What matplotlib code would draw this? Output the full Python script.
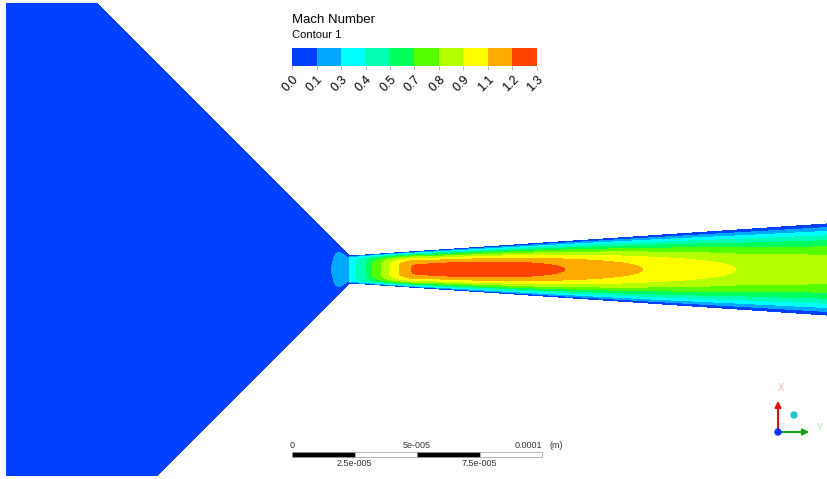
import numpy as np
import matplotlib
matplotlib.use('Agg')
import matplotlib.pyplot as plt
from matplotlib.colors import ListedColormap
from matplotlib.patches import Rectangle, FancyArrowPatch, Ellipse

plt.rcParams['font.family'] = ['Liberation Sans', 'DejaVu Sans']

W, H = 827, 479

# contour levels (Mach) and legend labels
levels = [0.0, 0.132, 0.264, 0.396, 0.528, 0.66, 0.792, 0.924, 1.056, 1.188, 1.32]
level_labels = ['0.0', '0.1', '0.3', '0.4', '0.5', '0.7', '0.8', '0.9', '1.1', '1.2', '1.3']
band_colors = ['#0040ff', '#00a8ff', '#00ffff', '#00ffb4', '#00ff5a',
               '#55ff00', '#b4ff00', '#ffff00', '#ffaa00', '#ff4400']

# nozzle half-height (um) along the axis, throat at x = 0
wall_x = [-140.0, 0.0, 192.0]
wall_h = [145.4, 5.4, 18.3]

# centreline Mach number read along the nozzle axis (um)
axis_x = [-140, -60, -20, -6.8, -3.5, -0.01, 0, 3.2, 6.8, 9.2, 12.8, 16, 20, 25.2,
          40, 55, 70, 84, 116, 156.8, 192]
axis_m = [0.01, 0.03, 0.07, 0.135, 0.245, 0.26, 0.34, 0.41, 0.54, 0.67, 0.80, 0.93,
          1.07, 1.20, 1.265, 1.28, 1.255, 1.195, 1.06, 0.915, 0.875]

# flatness of the cross-stream profile M = Mc * (1 - |eta|^n)
prof_x = [-140, -0.01, 0, 4, 10, 20, 35, 60, 192]
prof_n = [2.5, 2.5, 12, 8, 5, 3.5, 2.6, 2.3, 2.0]

# scale bar (m) and its labels
scale_m = [0, 2.5e-5, 5e-5, 7.5e-5, 1e-4]
scale_top = ['0', '5e-005', '0.0001']
scale_bot = ['2.5e-005', '7.5e-005']

# structured grid following the walls
xs = np.unique(np.concatenate([np.linspace(-140, 0, 500), np.linspace(0, 192, 1400)]))
eta = np.linspace(-1, 1, 601)
X, E = np.meshgrid(xs, eta)
hx = np.interp(X, wall_x, wall_h)
Y = E * hx
Mc = np.interp(X, axis_x, axis_m)
n = np.interp(X, prof_x, prof_n)
M = Mc * (1 - np.abs(E) ** n)

fig = plt.figure(figsize=(W / 100, H / 100), dpi=100)
fig.patch.set_facecolor('white')
ax = fig.add_axes([6 / W, 3 / H, 821 / W, 473 / H])
ax.axis('off')
cmap = ListedColormap(band_colors)
cf = ax.contourf(X, Y, M, levels=levels, cmap=cmap)
ax.set_xlim((6 - 350) * 0.4, (827 - 350) * 0.4)
ax.set_ylim((269.5 - 476) * 0.4, (269.5 - 3) * 0.4)

# legend
fig.text(292 / W, 1 - 20 / H, 'Mach Number', fontsize=9.5, va='center', ha='left')
fig.text(292 / W, 1 - 35 / H, 'Contour 1', fontsize=8, va='center', ha='left')
cax = fig.add_axes([292 / W, 1 - 66 / H, 245 / W, 18 / H])
cb = fig.colorbar(cf, cax=cax, orientation='horizontal', ticks=levels)
cb.outline.set_visible(False)
cax.set_xticklabels(level_labels, rotation=45, ha='right', va='top',
                    rotation_mode='anchor', fontsize=9)
cax.tick_params(axis='x', length=3, width=0.6, color='#aaaaaa', pad=2)

# scale bar in data units (um)
x0 = (292 - 350) * 0.4
yb = (269.5 - 457) * 0.4
sc = [v * 1e6 for v in scale_m]
for i in range(4):
    ax.add_patch(Rectangle((x0 + sc[i], yb), sc[i + 1] - sc[i], 2.0,
                           fc='black' if i % 2 == 0 else 'white',
                           ec='#999999', lw=0.5, clip_on=False))
ytop = (269.5 - 445) * 0.4
ybot = (269.5 - 463) * 0.4
ax.text(x0 + sc[0], ytop, scale_top[0], fontsize=6.5, ha='center', va='center', color='#333333')
ax.text(x0 + sc[2], ytop, scale_top[1], fontsize=6.5, ha='center', va='center', color='#333333')
ax.text(x0 + sc[4], ytop, scale_top[2], fontsize=6.5, ha='right', va='center', color='#333333')
ax.text(x0 + sc[4] + 3, ytop, '(m)', fontsize=6.5, ha='left', va='center', color='#333333')
ax.text(x0 + sc[1], ybot, scale_bot[0], fontsize=6.5, ha='center', va='center', color='#333333')
ax.text(x0 + sc[3], ybot, scale_bot[1], fontsize=6.5, ha='center', va='center', color='#333333')

# axis triad
def fp(px, py):
    return (px / W, 1 - py / H)

fig.add_artist(FancyArrowPatch(fp(778, 432), fp(778, 398), transform=fig.transFigure,
               arrowstyle='-|>', mutation_scale=9, color='#e01010', lw=1.5))
fig.add_artist(FancyArrowPatch(fp(778, 432), fp(812, 432), transform=fig.transFigure,
               arrowstyle='-|>', mutation_scale=9, color='#10a010', lw=1.5))
fig.add_artist(Ellipse(fp(778, 432), 6 / W, 6 / H, transform=fig.transFigure, color='#1030ff'))
fig.add_artist(Ellipse(fp(794, 415), 6 / W, 6 / H, transform=fig.transFigure, color='#20c8d0'))
fig.text(*fp(781, 388), 'X', fontsize=7, color='#ffb0b0', ha='center', va='center')
fig.text(*fp(820, 428), 'Y', fontsize=7, color='#b0e8b0', ha='center', va='center')
fig.text(*fp(782, 426), 'Z', fontsize=6, color='#c8d0ff', ha='center', va='center')

fig.savefig('out.png', dpi=100, facecolor='white')
